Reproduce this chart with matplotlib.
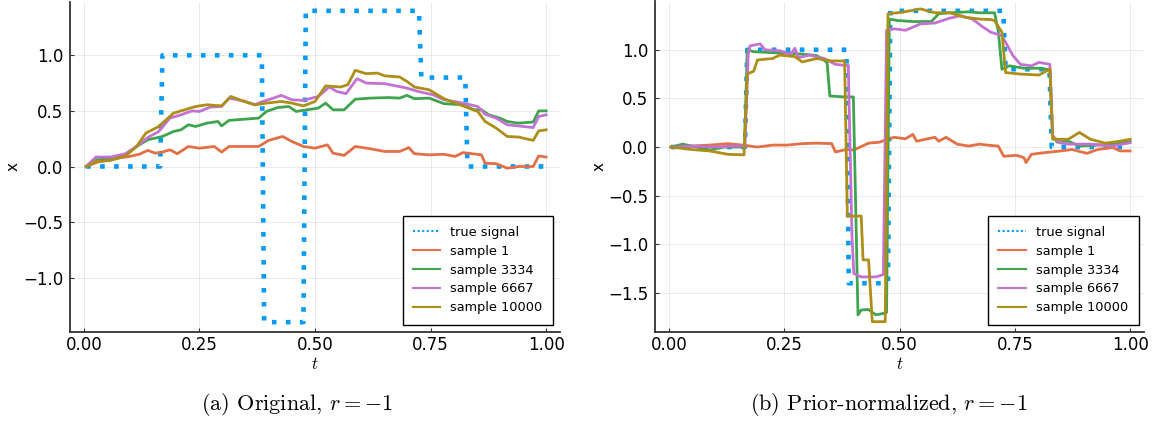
import matplotlib
matplotlib.use("Agg")
import matplotlib.pyplot as plt
from matplotlib.lines import Line2D

# ---------------------------------------------------------------
# Data

labels = ["true signal", "sample 1", "sample 3334", "sample 6667", "sample 10000"]

true_t = [0.005, 0.165, 0.17, 0.385, 0.39, 0.475, 0.48, 0.725, 0.73, 0.825, 0.83, 0.995]
true_x = [0.0, 0.0, 1.0, 1.0, -1.4, -1.4, 1.4, 1.4, 0.8, 0.8, 0.0, 0.0]

# (a) original
orig_t_s1 = [0.005, 0.03, 0.058, 0.08, 0.098, 0.12, 0.138, 0.154, 0.17, 0.186, 0.202, 0.226, 0.25, 0.282,
             0.298, 0.314, 0.346, 0.378, 0.40, 0.43, 0.45, 0.475, 0.50, 0.527, 0.539, 0.563, 0.587, 0.619,
             0.651, 0.683, 0.703, 0.715, 0.747, 0.779, 0.803, 0.82, 0.86, 0.868, 0.892, 0.916, 0.94, 0.972,
             0.984, 1.0]
orig_x_s1 = [0.0, 0.04, 0.06, 0.08, 0.09, 0.11, 0.145, 0.12, 0.13, 0.15, 0.115, 0.18, 0.165, 0.18,
             0.13, 0.18, 0.18, 0.18, 0.235, 0.27, 0.225, 0.18, 0.165, 0.195, 0.12, 0.10, 0.18, 0.16,
             0.135, 0.135, 0.17, 0.115, 0.105, 0.11, 0.09, 0.125, 0.105, 0.03, 0.025, -0.015, 0.0, 0.0,
             0.095, 0.085]

orig_t_s2 = [0.005, 0.026, 0.058, 0.09, 0.114, 0.138, 0.17, 0.194, 0.21, 0.226, 0.242, 0.266, 0.29, 0.298,
             0.314, 0.346, 0.378, 0.395, 0.419, 0.443, 0.459, 0.483, 0.507, 0.523, 0.539, 0.563, 0.587,
             0.619, 0.659, 0.683, 0.699, 0.715, 0.747, 0.779, 0.82, 0.844, 0.86, 0.876, 0.90, 0.916, 0.94,
             0.972, 0.984, 1.0]
orig_x_s2 = [0.0, 0.06, 0.075, 0.105, 0.18, 0.24, 0.27, 0.315, 0.33, 0.375, 0.36, 0.39, 0.405, 0.365,
             0.415, 0.425, 0.435, 0.495, 0.53, 0.54, 0.495, 0.51, 0.525, 0.57, 0.51, 0.51, 0.605,
             0.615, 0.62, 0.615, 0.64, 0.61, 0.615, 0.565, 0.555, 0.51, 0.51, 0.465, 0.435, 0.405, 0.39,
             0.40, 0.50, 0.50]

orig_t_s3 = [0.005, 0.026, 0.058, 0.09, 0.114, 0.138, 0.162, 0.186, 0.21, 0.234, 0.25, 0.274, 0.298, 0.314,
             0.346, 0.37, 0.387, 0.41, 0.427, 0.45, 0.475, 0.507, 0.531, 0.547, 0.567, 0.591, 0.611, 0.651,
             0.675, 0.699, 0.723, 0.755, 0.779, 0.82, 0.852, 0.868, 0.892, 0.916, 0.94, 0.972, 0.984, 1.0]
orig_x_s3 = [0.0, 0.085, 0.085, 0.115, 0.18, 0.26, 0.315, 0.435, 0.465, 0.50, 0.495, 0.535, 0.54, 0.615,
             0.59, 0.555, 0.585, 0.615, 0.64, 0.60, 0.595, 0.63, 0.715, 0.675, 0.655, 0.79, 0.75, 0.745,
             0.725, 0.705, 0.675, 0.645, 0.60, 0.57, 0.54, 0.47, 0.435, 0.375, 0.365, 0.35, 0.45, 0.465]

orig_t_s4 = [0.005, 0.026, 0.058, 0.09, 0.114, 0.134, 0.162, 0.194, 0.218, 0.242, 0.266, 0.298, 0.318, 0.346,
             0.37, 0.395, 0.427, 0.45, 0.475, 0.50, 0.523, 0.555, 0.571, 0.587, 0.611, 0.635, 0.651, 0.683,
             0.699, 0.715, 0.747, 0.779, 0.82, 0.852, 0.868, 0.892, 0.916, 0.94, 0.972, 0.984, 1.0]
orig_x_s4 = [0.0, 0.045, 0.055, 0.095, 0.18, 0.30, 0.36, 0.48, 0.51, 0.54, 0.555, 0.545, 0.63, 0.585,
             0.555, 0.57, 0.585, 0.57, 0.545, 0.585, 0.725, 0.715, 0.735, 0.865, 0.835, 0.84, 0.815, 0.805,
             0.765, 0.715, 0.69, 0.61, 0.545, 0.495, 0.405, 0.345, 0.27, 0.265, 0.235, 0.32, 0.33]

# (b) prior-normalized
norm_t_s1 = [0.005, 0.048, 0.088, 0.128, 0.16, 0.192, 0.225, 0.257, 0.289, 0.321, 0.353, 0.361, 0.385, 0.401,
             0.433, 0.457, 0.473, 0.489, 0.513, 0.529, 0.537, 0.561, 0.577, 0.585, 0.601, 0.625, 0.65, 0.674,
             0.69, 0.714, 0.726, 0.754, 0.77, 0.774, 0.786, 0.81, 0.85, 0.874, 0.906, 0.93, 0.962, 0.978, 1.0]
norm_x_s1 = [0.0, 0.01, 0.02, 0.035, 0.02, 0.0, 0.02, 0.02, 0.035, 0.04, 0.035, -0.05, -0.025, -0.03,
             0.04, 0.05, 0.08, 0.10, 0.085, 0.13, 0.06, 0.085, 0.10, 0.06, 0.10, 0.03, 0.01, 0.03,
             0.02, 0.01, -0.095, -0.085, -0.11, -0.16, -0.075, -0.06, -0.04, -0.025, -0.065, -0.025, -0.005,
             -0.04, -0.04]

norm_t_s2 = [0.005, 0.03, 0.06, 0.09, 0.12, 0.164, 0.17, 0.184, 0.225, 0.257, 0.289, 0.321, 0.343, 0.349,
             0.381, 0.40, 0.41, 0.417, 0.433, 0.449, 0.465, 0.472, 0.478, 0.497, 0.529, 0.569, 0.585, 0.609,
             0.65, 0.674, 0.706, 0.714, 0.722, 0.738, 0.77, 0.802, 0.826, 0.832, 0.842, 0.866, 0.89, 0.93,
             0.962, 1.0]
norm_x_s2 = [0.0, 0.03, 0.0, -0.03, 0.0, 0.0, 1.0, 0.98, 0.97, 0.965, 0.955, 0.94, 0.87, 0.525,
             0.515, 0.515, -1.725, -1.675, -1.67, -1.725, -1.71, -1.70, 1.315, 1.30, 1.29, 1.29, 1.37, 1.38,
             1.39, 1.38, 1.38, 1.195, 0.80, 0.835, 0.81, 0.81, 0.795, 0.115, 0.05, 0.06, 0.01, 0.02,
             0.03, 0.06]

norm_t_s3 = [0.005, 0.05, 0.10, 0.14, 0.165, 0.172, 0.176, 0.198, 0.208, 0.24, 0.265, 0.273, 0.281, 0.305,
             0.337, 0.361, 0.381, 0.389, 0.397, 0.401, 0.417, 0.449, 0.465, 0.472, 0.489, 0.513, 0.545, 0.577,
             0.609, 0.633, 0.658, 0.682, 0.698, 0.722, 0.746, 0.762, 0.786, 0.802, 0.826, 0.832, 0.846, 0.866,
             0.914, 0.962, 1.0]
norm_x_s3 = [0.0, 0.01, 0.0, 0.01, 0.01, 0.95, 1.04, 1.06, 1.0, 0.99, 0.955, 1.015, 0.92, 0.945,
             0.91, 0.85, 0.84, 0.84, -0.92, -1.30, -1.335, -1.335, -1.31, 1.20, 1.215, 1.20, 1.265, 1.275,
             1.325, 1.35, 1.315, 1.23, 1.18, 1.145, 0.94, 0.85, 0.835, 0.87, 0.85, 0.115, 0.045, 0.03,
             0.03, 0.01, 0.045]

norm_t_s4 = [0.005, 0.048, 0.088, 0.128, 0.163, 0.17, 0.184, 0.192, 0.225, 0.24, 0.273, 0.289, 0.321, 0.353,
             0.381, 0.387, 0.417, 0.421, 0.433, 0.441, 0.469, 0.475, 0.505, 0.545, 0.577, 0.609, 0.641, 0.674,
             0.698, 0.706, 0.722, 0.73, 0.762, 0.802, 0.826, 0.832, 0.866, 0.89, 0.914, 0.946, 0.978, 1.0]
norm_x_s4 = [0.0, -0.025, -0.04, -0.075, -0.08, 0.75, 0.78, 0.895, 0.91, 0.945, 0.93, 0.875, 0.91, 0.885,
             0.885, -0.71, -0.71, -1.16, -1.16, -1.795, -1.795, 1.37, 1.385, 1.42, 1.38, 1.38, 1.335, 1.315,
             1.31, 1.30, 1.18, 0.765, 0.75, 0.74, 0.80, 0.08, 0.08, 0.15, 0.08, 0.04, 0.06, 0.08]

xticks = [0.0, 0.25, 0.5, 0.75, 1.0]
orig_yticks = [-1.0, -0.5, 0.0, 0.5, 1.0]
norm_yticks = [-1.5, -1.0, -0.5, 0.0, 0.5, 1.0]

captions = ["(a) Original, $r = -1$", "(b) Prior-normalized, $r = -1$"]

# ---------------------------------------------------------------
# Style

colors = ["#009AFA", "#E36F47", "#3EA44E", "#C371D2", "#AC8E18"]
plt.rcParams["mathtext.fontset"] = "cm"
plt.rcParams["font.family"] = "DejaVu Sans"

fig = plt.figure(figsize=(11.6, 4.25), dpi=100)
W, H = 1160, 425


def make_axes(left, right):
    top, bottom = 1.5, 331.5
    return fig.add_axes([left / W, (H - bottom) / H, (right - left) / W, (bottom - top) / H])


def draw_panel(ax, samples, ylim, yticks, ylab_x, leg_x):
    ax.plot(true_t, true_x, color=colors[0], lw=3.3, linestyle=(0, (1, 2.05)),
            dash_capstyle="butt", zorder=2)
    for i, (t, x) in enumerate(samples):
        ax.plot(t, x, color=colors[i + 1], lw=2.0, zorder=3, solid_joinstyle="round")

    ax.set_xlim(-0.03, 1.03)
    ax.set_ylim(*ylim)
    ax.set_xticks(xticks)
    ax.set_xticklabels(["%.2f" % v for v in xticks])
    ax.set_yticks(yticks)
    ax.set_yticklabels([("%.1f" % v).replace("-", "\u2212") for v in yticks])
    ax.grid(True, color="black", alpha=0.1, lw=0.6)
    ax.set_axisbelow(True)
    for s in ["top", "right"]:
        ax.spines[s].set_visible(False)
    for s in ["left", "bottom"]:
        ax.spines[s].set_color("#333333")
        ax.spines[s].set_linewidth(1.3)
    ax.tick_params(direction="in", length=3, width=0.8, color="#333333", labelsize=12)
    ax.tick_params(axis="y", pad=5)
    ax.tick_params(axis="x", pad=3)
    ax.set_xlabel(r"$t$", fontsize=12)
    ax.xaxis.set_label_coords(0.5, -(355 - 331.5) / 330)
    ax.set_ylabel("x", fontsize=11)
    ax.yaxis.set_label_coords(ylab_x, 0.5)

    handles = [Line2D([], [], color=colors[0], lw=1.5, linestyle=(0, (1, 1.2)))]
    handles += [Line2D([], [], color=c, lw=1.5) for c in colors[1:]]
    leg = ax.legend(handles, labels, loc="lower right", bbox_to_anchor=(leg_x, 0.0212),
                    borderaxespad=0, fontsize=9.3, fancybox=False, framealpha=1,
                    edgecolor="black", handlelength=2.1, handletextpad=0.8,
                    labelspacing=0.45, borderpad=0.8)
    leg.get_frame().set_linewidth(1.0)


ax1 = make_axes(70, 560)
draw_panel(ax1, [(orig_t_s1, orig_x_s1), (orig_t_s2, orig_x_s2),
                 (orig_t_s3, orig_x_s3), (orig_t_s4, orig_x_s4)],
           (-1.484, 1.484), orig_yticks, (21 - 70) / 490, (553 - 70) / 490)

ax2 = make_axes(655, 1144)
draw_panel(ax2, [(norm_t_s1, norm_x_s1), (norm_t_s2, norm_x_s2),
                 (norm_t_s3, norm_x_s3), (norm_t_s4, norm_x_s4)],
           (-1.896, 1.496), norm_yticks, (607 - 655) / 489, (1138.5 - 655) / 489)

fig.text(297 / W, 1 - 404 / H, captions[0], ha="center", va="center", fontsize=16, family="cmr10")
fig.text(889 / W, 1 - 404 / H, captions[1], ha="center", va="center", fontsize=16, family="cmr10")

fig.savefig("out.png", dpi=100, facecolor="white")
